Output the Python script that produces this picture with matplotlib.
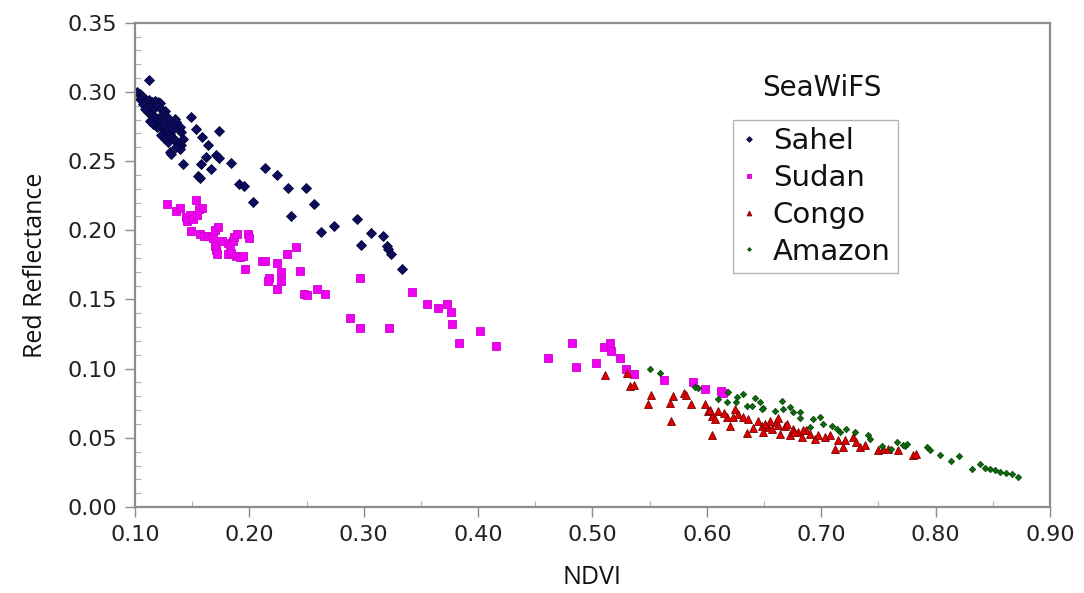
import matplotlib
matplotlib.use("Agg")
import matplotlib.pyplot as plt
from matplotlib.ticker import MultipleLocator, FormatStrFormatter

# SeaWiFS NDVI vs red reflectance for four regions
sahel_ndvi = [
    0.1015, 0.1043, 0.1058, 0.1087, 0.1102, 0.1124, 0.1145, 0.1174, 0.1203, 0.1223,
    0.1102, 0.1130, 0.1159, 0.1189, 0.1232, 0.1261, 0.1116, 0.1145, 0.1174, 0.1203,
    0.1232, 0.1276, 0.1304, 0.1348, 0.1363, 0.1391, 0.1406, 0.1130, 0.1159, 0.1189,
    0.1217, 0.1246, 0.1276, 0.1304, 0.1333, 0.1232, 0.1261, 0.1290, 0.1319, 0.1348,
    0.1377, 0.1406, 0.1391, 0.1363, 0.1304, 0.1319, 0.1043, 0.1072, 0.1087, 0.1420,
    0.1276, 0.1217, 0.1246,
    0.1124, 0.1493, 0.1537, 0.1733, 0.1589, 0.1638, 0.1623, 0.1710, 0.1739, 0.1841,
    0.1580, 0.1667, 0.1420, 0.1551, 0.1565, 0.2139, 0.2246, 0.1913, 0.1957, 0.2342,
    0.2493, 0.2035, 0.2565, 0.2362, 0.2623, 0.2739, 0.2942, 0.2980, 0.3064, 0.3165,
    0.3203, 0.3212, 0.3238, 0.3339,
]
sahel_red = [
    0.3002, 0.2985, 0.2973, 0.2949, 0.2930, 0.2944, 0.2925, 0.2937, 0.2930, 0.2920,
    0.2901, 0.2889, 0.2877, 0.2906, 0.2877, 0.2865, 0.2853, 0.2829, 0.2817, 0.2805,
    0.2829, 0.2817, 0.2793, 0.2805, 0.2781, 0.2745, 0.2709, 0.2793, 0.2769, 0.2745,
    0.2757, 0.2733, 0.2721, 0.2697, 0.2733, 0.2685, 0.2661, 0.2638, 0.2674, 0.2650,
    0.2625, 0.2614, 0.2589, 0.2602, 0.2566, 0.2554, 0.2949, 0.2913, 0.2877, 0.2661,
    0.2757, 0.2781, 0.2769,
    0.3088, 0.2822, 0.2729, 0.2717, 0.2676, 0.2618, 0.2530, 0.2546, 0.2525, 0.2487,
    0.2482, 0.2441, 0.2477, 0.2391, 0.2379, 0.2451, 0.2396, 0.2331, 0.2319, 0.2302,
    0.2307, 0.2206, 0.2187, 0.2101, 0.1991, 0.2032, 0.2082, 0.1895, 0.1979, 0.1957,
    0.1883, 0.1867, 0.1831, 0.1720,
]

sudan_ndvi = [
    0.1284, 0.1357, 0.1397, 0.1537, 0.1559, 0.1589, 0.1449, 0.1478, 0.1455, 0.1507,
    0.1542, 0.1493, 0.1565, 0.1600, 0.1638, 0.1681, 0.1696, 0.1725, 0.1762, 0.1696,
    0.1710, 0.1716, 0.1811, 0.1832, 0.1855, 0.1870, 0.1890, 0.1811, 0.1841, 0.1884,
    0.1919, 0.1942, 0.1985, 0.1994, 0.1962, 0.2110, 0.2139, 0.2246, 0.2275, 0.2275,
    0.2174, 0.2159, 0.2246, 0.2328, 0.2406, 0.2444, 0.2478, 0.2507, 0.2594, 0.2661,
    0.2971, 0.2884, 0.2971, 0.3217, 0.3426, 0.3557, 0.3652, 0.3725, 0.3762, 0.3774,
    0.4014, 0.3837, 0.4159, 0.4609, 0.4817, 0.4855, 0.5035, 0.5102, 0.5151, 0.5165,
    0.5241, 0.5296, 0.5362, 0.5629, 0.5878, 0.5983, 0.6128, 0.6137,
]
sudan_red = [
    0.2192, 0.2139, 0.2163, 0.2219, 0.2154, 0.2159, 0.2099, 0.2111, 0.2068, 0.2082,
    0.2111, 0.1996, 0.1971, 0.1962, 0.1955, 0.1943, 0.2003, 0.2027, 0.1924, 0.1883,
    0.1859, 0.1828, 0.1907, 0.1890, 0.1919, 0.1948, 0.1975, 0.1828, 0.1835, 0.1811,
    0.1804, 0.1811, 0.1971, 0.1943, 0.1723, 0.1775, 0.1775, 0.1763, 0.1698, 0.1631,
    0.1655, 0.1631, 0.1579, 0.1831, 0.1876, 0.1703, 0.1536, 0.1529, 0.1572, 0.1536,
    0.1655, 0.1368, 0.1296, 0.1296, 0.1555, 0.1464, 0.1439, 0.1468, 0.1409, 0.1320,
    0.1272, 0.1184, 0.1164, 0.1076, 0.1184, 0.1013, 0.1044, 0.1157, 0.1188, 0.1124,
    0.1076, 0.1001, 0.0961, 0.0918, 0.0901, 0.0853, 0.0841, 0.0824,
]

congo_ndvi = [
    0.5107, 0.5304, 0.5328, 0.5362, 0.5513, 0.5484, 0.5675, 0.5704, 0.5797, 0.5820,
    0.5865, 0.5687, 0.5983, 0.6012, 0.6041, 0.6070, 0.6099, 0.6172, 0.6201, 0.6245,
    0.6274, 0.6318, 0.6361, 0.6041, 0.6347, 0.6478, 0.6492, 0.6536, 0.6030, 0.6150,
    0.6230, 0.6507, 0.6566, 0.6609, 0.6638, 0.6682, 0.6726, 0.6755, 0.6799, 0.6828,
    0.6871, 0.6901, 0.6944, 0.6973, 0.7032, 0.7075, 0.7148, 0.7119, 0.7207, 0.7192,
    0.7279, 0.7308, 0.7338, 0.7381, 0.7498, 0.7542, 0.7585, 0.7673, 0.7804, 0.7833,
    0.6550, 0.6620, 0.6700, 0.6760, 0.6840, 0.6620, 0.6450, 0.6400,
]
congo_red = [
    0.0956, 0.0965, 0.0872, 0.0882, 0.0810, 0.0745, 0.0750, 0.0805, 0.0822, 0.0812,
    0.0745, 0.0625, 0.0745, 0.0697, 0.0661, 0.0637, 0.0697, 0.0649, 0.0589, 0.0709,
    0.0673, 0.0649, 0.0637, 0.0518, 0.0537, 0.0589, 0.0541, 0.0577, 0.0700, 0.0680,
    0.0650, 0.0602, 0.0566, 0.0613, 0.0530, 0.0589, 0.0518, 0.0566, 0.0541, 0.0505,
    0.0553, 0.0530, 0.0494, 0.0518, 0.0505, 0.0518, 0.0482, 0.0422, 0.0482, 0.0433,
    0.0505, 0.0469, 0.0433, 0.0445, 0.0409, 0.0422, 0.0422, 0.0409, 0.0374, 0.0385,
    0.0620, 0.0590, 0.0600, 0.0540, 0.0560, 0.0640, 0.0620, 0.0570,
]

amazon_ndvi = [
    0.5502, 0.5594, 0.5898, 0.5924, 0.6099, 0.6186, 0.6260, 0.6318, 0.6254, 0.6347,
    0.6420, 0.6391, 0.6464, 0.6487, 0.6172, 0.6653, 0.6478, 0.6594, 0.6667, 0.6726,
    0.6755, 0.6813, 0.6930, 0.6988, 0.7017, 0.7090, 0.7134, 0.7163, 0.7221, 0.7294,
    0.7410, 0.7425, 0.7528, 0.7659, 0.7732, 0.7746, 0.7921, 0.7614, 0.6901, 0.6813,
    0.7716, 0.7949, 0.8037, 0.8139, 0.8206, 0.8314, 0.8387, 0.8431, 0.8474, 0.8518,
    0.8562, 0.8620, 0.8664, 0.8722,
]
amazon_red = [
    0.0997, 0.0968, 0.0865, 0.0860, 0.0781, 0.0829, 0.0793, 0.0817, 0.0757, 0.0733,
    0.0786, 0.0733, 0.0757, 0.0714, 0.0757, 0.0769, 0.0709, 0.0697, 0.0709, 0.0721,
    0.0690, 0.0685, 0.0637, 0.0649, 0.0602, 0.0589, 0.0566, 0.0541, 0.0566, 0.0541,
    0.0518, 0.0494, 0.0441, 0.0469, 0.0441, 0.0458, 0.0433, 0.0417, 0.0577, 0.0642,
    0.0446, 0.0410, 0.0374, 0.0333, 0.0367, 0.0273, 0.0314, 0.0282, 0.0278, 0.0266,
    0.0254, 0.0247, 0.0242, 0.0218,
]

plt.rcParams["font.family"] = ["DejaVu Sans"]

fig = plt.figure(figsize=(10.84, 5.93), dpi=100)
ax = fig.add_axes([0.1245, 0.145, 0.8441, 0.8167])

ax.plot(sahel_ndvi, sahel_red, linestyle="none", marker="D", ms=4.8,
        color="#0b0b5e", mec="#05053a", mew=0.6, label="Sahel")
ax.plot(sudan_ndvi, sudan_red, linestyle="none", marker="s", ms=5.2,
        color="#f000f0", mec="#d000d0", mew=0.6, label="Sudan")
ax.plot(congo_ndvi, congo_red, linestyle="none", marker="^", ms=5.8,
        color="#e00000", mec="#7a0000", mew=0.6, label="Congo")
ax.plot(amazon_ndvi, amazon_red, linestyle="none", marker="D", ms=3.3,
        color="#0a6a0a", mec="#064006", mew=0.5, label="Amazon")

ax.set_xlim(0.10, 0.90)
ax.set_ylim(0.0, 0.35)
ax.xaxis.set_major_locator(MultipleLocator(0.10))
ax.xaxis.set_minor_locator(MultipleLocator(0.05))
ax.yaxis.set_major_locator(MultipleLocator(0.05))
ax.yaxis.set_minor_locator(MultipleLocator(0.01))
ax.xaxis.set_major_formatter(FormatStrFormatter("%.2f"))
ax.yaxis.set_major_formatter(FormatStrFormatter("%.2f"))

spine_col = "#8c8c8c"
for side in ("left", "bottom", "top", "right"):
    ax.spines[side].set_color(spine_col)
    ax.spines[side].set_linewidth(1.6)

ax.tick_params(axis="both", which="major", direction="out", length=7,
               width=1.0, color=spine_col, labelsize=16, labelcolor="#222222", pad=6)
ax.tick_params(axis="both", which="minor", direction="in", length=4,
               width=0.8, color="#b0b0b0")
ax.tick_params(top=False, right=False, which="both")

ax.set_xlabel("NDVI", fontsize=18, family=["Open Sans", "DejaVu Sans"],
              color="#111111", labelpad=14)
ax.set_ylabel("Red Reflectance", fontsize=18, family=["Open Sans", "DejaVu Sans"],
              color="#111111", labelpad=14)

leg = ax.legend(loc="upper left", bbox_to_anchor=(0.654, 0.799), fontsize=21,
                frameon=True, fancybox=False, edgecolor="#a0a0a0",
                handlelength=0.6, handletextpad=0.5, labelspacing=0.3,
                borderpad=0.25, borderaxespad=0.0, markerscale=0.6)
leg.get_frame().set_linewidth(1.0)
for t in leg.get_texts():
    t.set_color("#111111")

ax.text(0.751, 0.865, "SeaWiFS", transform=ax.transAxes, fontsize=20,
        ha="center", va="center", color="#111111")

fig.savefig("out.png", dpi=100)
